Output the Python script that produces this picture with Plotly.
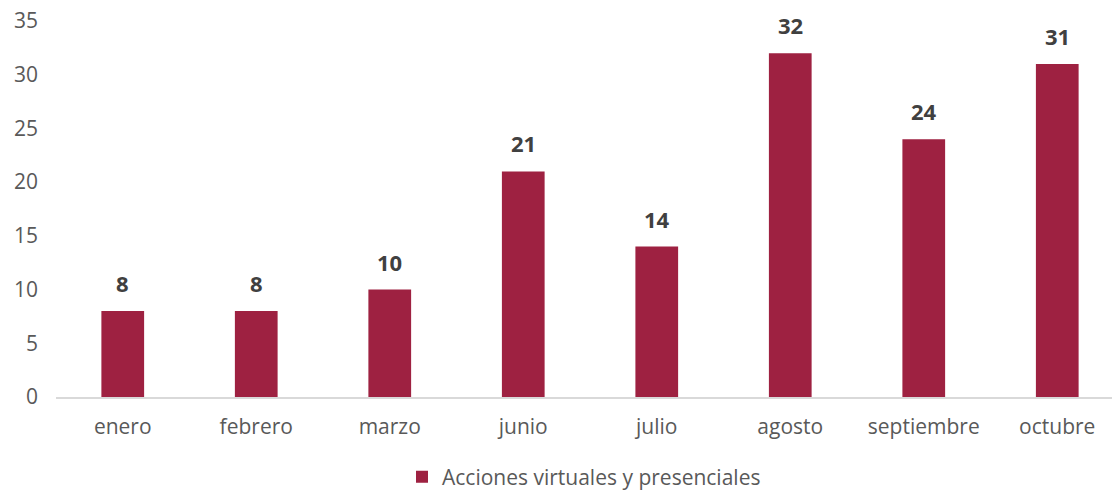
import plotly.graph_objects as go

months = ["enero", "febrero", "marzo", "junio", "julio", "agosto", "septiembre", "octubre"]
acciones = [8, 8, 10, 21, 14, 32, 24, 31]
y_ticks = [0, 5, 10, 15, 20, 25, 30, 35]

BAR_COLOR = "#9E2141"
FONT = "'Open Sans', sans-serif"

fig = go.Figure()
fig.add_trace(go.Bar(
    x=months, y=acciones,
    name="Acciones virtuales y presenciales",
    marker=dict(color=BAR_COLOR, line=dict(width=0)),
    width=0.32,
))

for m, v in zip(months, acciones):
    fig.add_annotation(
        x=m, y=v, text=f"<b>{v}</b>", showarrow=False,
        yanchor="bottom", yshift=11,
        font=dict(family=FONT, size=22, color="#404040"),
    )

fig.update_layout(
    width=1112, height=491,
    plot_bgcolor="white", paper_bgcolor="white",
    margin=dict(l=56, r=0, t=21, b=94, autoexpand=False),
    font=dict(family=FONT, size=21, color="#595959"),
    showlegend=True,
    legend=dict(
        orientation="h", x=0.5, xanchor="center",
        yref="container", y=14 / 491, yanchor="middle",
        font=dict(size=21, color="#595959"), itemwidth=30,
    ),
    xaxis=dict(
        range=[-0.5, 7.41], showline=True, linecolor="#D9D9D9", linewidth=1.5,
        showgrid=False, ticks="", ticklabelstandoff=10,
    ),
    yaxis=dict(
        range=[0, 35], tickvals=y_ticks, showgrid=False, zeroline=False,
        showline=False, ticks="", ticklabelstandoff=17,
    ),
)

fig.write_html("out.html", config={"displayModeBar": False},
               post_script="document.body.style.margin='0';")
